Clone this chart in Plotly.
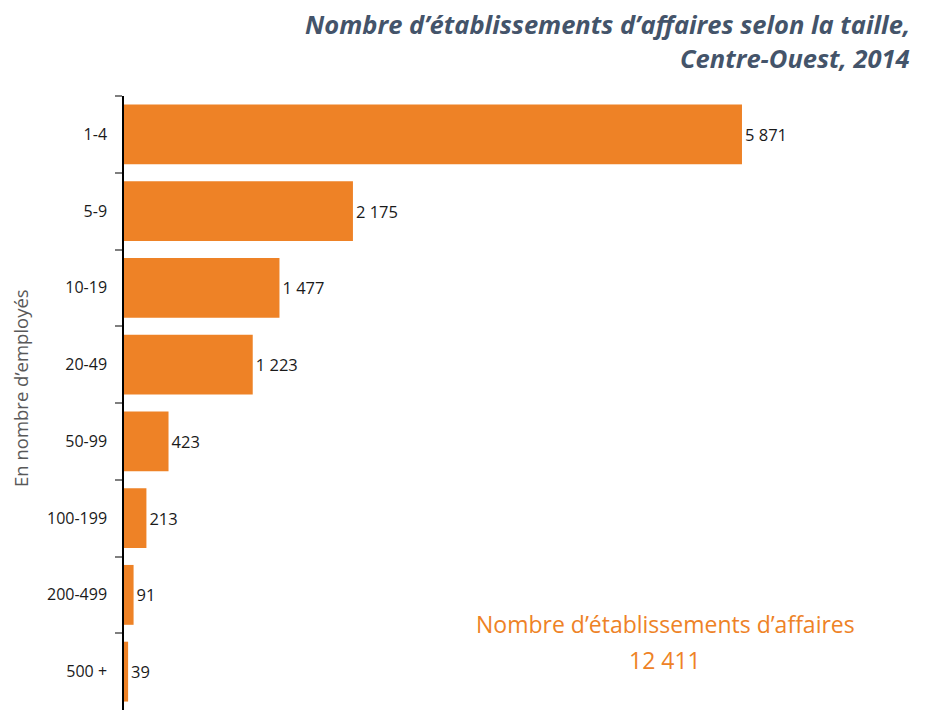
import plotly.graph_objects as go

categories = ["1-4", "5-9", "10-19", "20-49", "50-99", "100-199", "200-499", "500 +"]
values = [5871, 2175, 1477, 1223, 423, 213, 91, 39]
value_labels = ["5 871", "2 175", "1 477", "1 223", "423", "213", "91", "39"]
title_lines = ["Nombre d\u2019établissements d\u2019affaires selon la taille,", "Centre-Ouest, 2014"]
axis_title = "En nombre d\u2019employés"
total_label = "Nombre d\u2019établissements d\u2019affaires"
total_value = "12 411"

ORANGE = "#EE8226"
FONT = "'Open Sans', sans-serif"

# page body has an 8px margin: figure is drawn offset by (8, 8)
OFF = 8
W, H = 920, 702
l, r, t, b = 124 - OFF, 10, 96 - OFF, 0
pw, ph = W - l - r, H - t - b


def px(x, y):
    # screen pixel -> paper coords
    return (x - OFF - l) / pw, 1 - (y - OFF - t) / ph


fig = go.Figure(go.Bar(
    x=values, y=categories, orientation="h",
    marker=dict(color=ORANGE, line=dict(width=0)),
    width=0.78,
    text=value_labels, textposition="outside",
    textfont=dict(size=16.5, color="#1a1a1a", family=FONT),
    cliponaxis=False,
))

annotations = []
for line, yy in zip(title_lines, [24, 58]):
    ax, ay = px(911, yy)
    annotations.append(dict(text="<b><i>" + line + "</i></b>", x=ax, y=ay, xref="paper", yref="paper",
                            showarrow=False, xanchor="right", yanchor="middle", borderpad=0,
                            font=dict(size=25.5, color="#44546A", family=FONT)))
ax, ay = px(20, 388)
annotations.append(dict(text=axis_title, x=ax, y=ay, xref="paper", yref="paper", textangle=-90,
                        showarrow=False, xanchor="center", yanchor="middle",
                        font=dict(size=18.5, color="#595959", family=FONT)))
for txt, yy in [(total_label, 624), (total_value, 660)]:
    ax, ay = px(665, yy)
    annotations.append(dict(text=txt, x=ax, y=ay, xref="paper", yref="paper",
                            showarrow=False, xanchor="center", yanchor="middle",
                            font=dict(size=23, color=ORANGE, family=FONT)))

fig.update_layout(
    width=W, height=H,
    margin=dict(l=l, r=r, t=t, b=b, autoexpand=False),
    paper_bgcolor="white", plot_bgcolor="white",
    showlegend=False,
    font=dict(family=FONT),
    xaxis=dict(range=[0, pw / 0.10526], visible=False, fixedrange=True, automargin=False),
    yaxis=dict(
        categoryorder="array", categoryarray=categories,
        autorange=False, range=[7.5, -0.5], automargin=False,
        showline=True, linecolor="black", linewidth=1.5,
        ticks="outside", tickson="boundaries", ticklen=7, tickcolor="#7f7f7f", tickwidth=1.5,
        ticklabelstandoff=12,
        tickfont=dict(size=16, color="#1a1a1a", family=FONT),
        showgrid=False,
    ),
    annotations=annotations,
)

fig.write_html("out.html")
